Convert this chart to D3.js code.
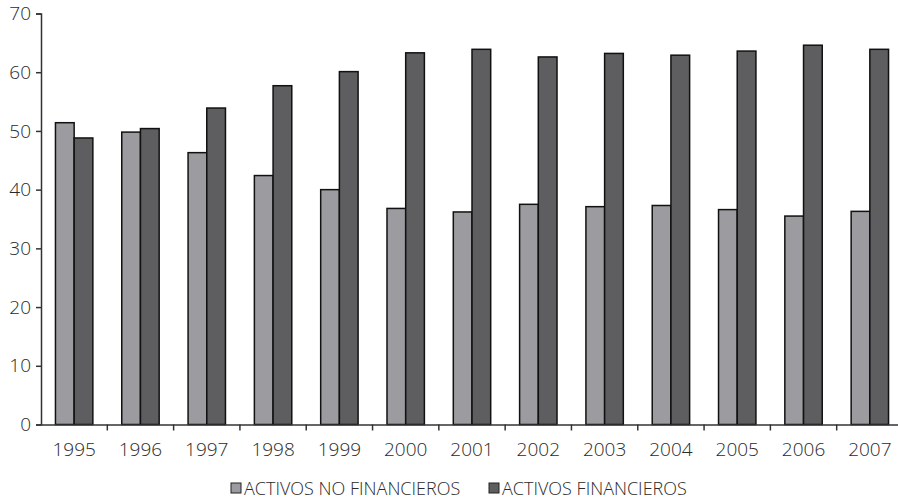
<!DOCTYPE html>
<html>
<head>
<meta charset="utf-8">
<script src="https://d3js.org/d3.v7.min.js"></script>
<style>
body { margin: 0; background: #fff; }
text { font-family: "Open Sans", sans-serif; font-weight: 300; fill: #2a2a2a; }
</style>
</head>
<body>
<div id="chart"></div>
<script>
var years = ["1995", "1996", "1997", "1998", "1999", "2000", "2001", "2002", "2003", "2004", "2005", "2006", "2007"];
var noFinancieros = [51.4, 49.8, 46.3, 42.4, 40.0, 36.8, 36.2, 37.5, 37.1, 37.3, 36.6, 35.5, 36.3];
var financieros = [48.8, 50.4, 53.9, 57.7, 60.1, 63.3, 63.9, 62.6, 63.2, 62.9, 63.6, 64.6, 63.9];
var yTicks = [0, 10, 20, 30, 40, 50, 60, 70];
var seriesNames = ["ACTIVOS NO FINANCIEROS", "ACTIVOS FINANCIEROS"];
var colors = ["#9c9ca0", "#5e5e60"];

var width = 898, height = 501;
var svg = d3.select("#chart").append("svg")
    .attr("width", width)
    .attr("height", height);

var x = d3.scaleBand().domain(years).range([41, 903]);
// two bars per year, bar width about 28% of the band
var inner = d3.scaleBand().domain([0, 1])
    .range([x.bandwidth() * 0.218, x.bandwidth() * 0.782]);
var y = d3.scaleLinear().domain([0, 70]).range([424.5, 13.5]);

// bars
var series = [noFinancieros, financieros];
series.forEach(function(vals, s) {
    svg.append("g")
        .selectAll("rect")
        .data(vals)
        .enter()
        .append("rect")
        .attr("x", function(d, i) { return x(years[i]) + inner(s); })
        .attr("y", function(d) { return y(d); })
        .attr("width", inner.bandwidth())
        .attr("height", function(d) { return y(0) - y(d); })
        .attr("fill", colors[s])
        .attr("stroke", "#111")
        .attr("stroke-width", 1.5);
});

// y axis
var yAxis = svg.append("g")
    .attr("transform", "translate(41,0)")
    .call(d3.axisLeft(y).tickValues(yTicks).tickSize(5).tickPadding(5));
yAxis.select(".domain").attr("stroke", "#333").attr("stroke-width", 1.5);
yAxis.selectAll(".tick line").attr("stroke", "#333").attr("stroke-width", 1.5);
yAxis.selectAll("text").style("font-size", "19px").attr("fill", "#2a2a2a");

// x axis
var xAxis = svg.append("g")
    .attr("transform", "translate(0," + y(0) + ")")
    .call(d3.axisBottom(x).tickSize(0).tickPadding(18));
xAxis.select(".domain").attr("stroke", "#333").attr("stroke-width", 1.5);
xAxis.selectAll("text").style("font-size", "19px").attr("fill", "#2a2a2a");
// category separators
xAxis.selectAll(".sep")
    .data(years.slice(1))
    .enter()
    .append("line")
    .attr("x1", function(d) { return x(d); })
    .attr("x2", function(d) { return x(d); })
    .attr("y1", 0)
    .attr("y2", 6)
    .attr("stroke", "#333")
    .attr("stroke-width", 1.5);

// legend
var legendX = [231, 489];
var legend = svg.append("g");
seriesNames.forEach(function(name, s) {
    legend.append("rect")
        .attr("x", legendX[s])
        .attr("y", 483)
        .attr("width", 10)
        .attr("height", 10)
        .attr("fill", colors[s])
        .attr("stroke", "#222")
        .attr("stroke-width", 1);
    legend.append("text")
        .attr("x", legendX[s] + 13)
        .attr("y", 495)
        .style("font-size", "18px")
        .text(name);
});
</script>
</body>
</html>
